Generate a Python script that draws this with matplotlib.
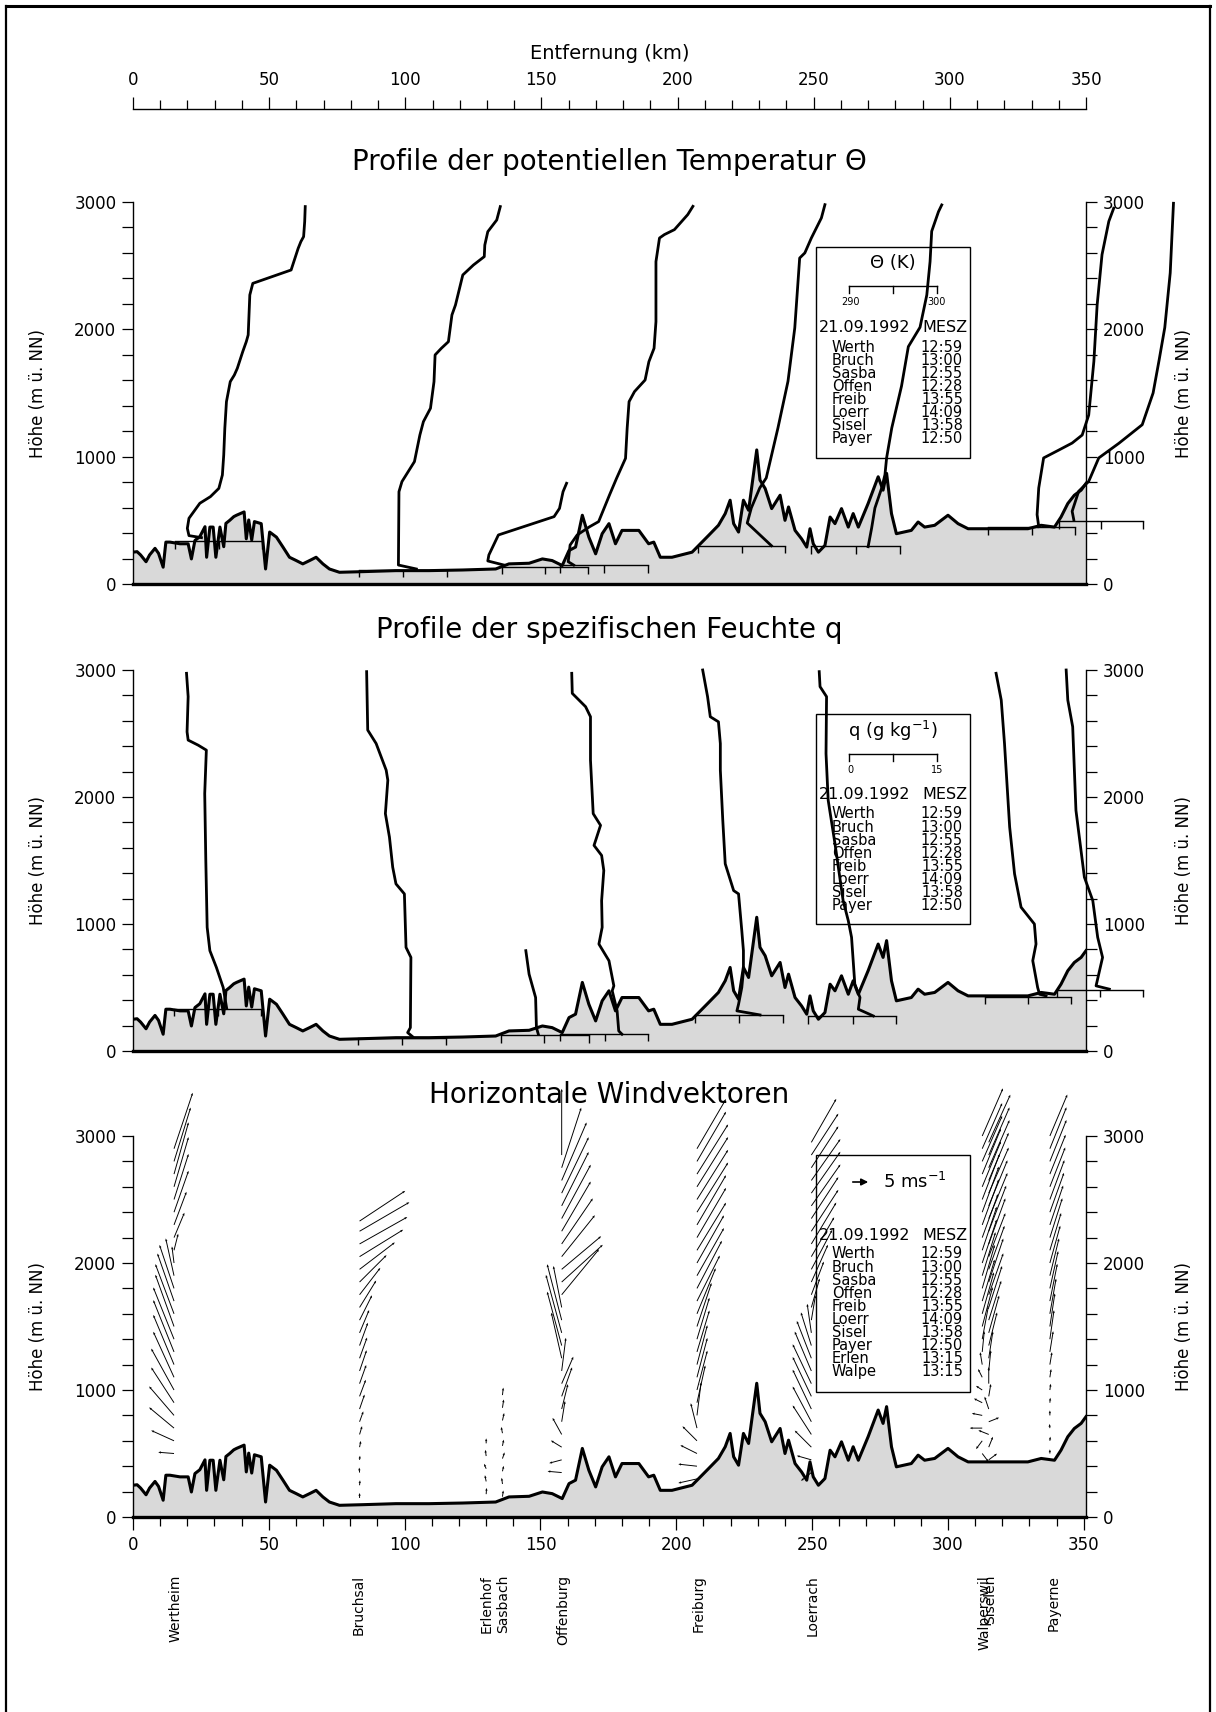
import numpy as np
import matplotlib
matplotlib.use('Agg')
import matplotlib.pyplot as plt
from matplotlib.patches import Rectangle, FancyArrowPatch
from matplotlib.lines import Line2D
from matplotlib.transforms import blended_transform_factory
from matplotlib.ticker import MultipleLocator

plt.rcParams['font.family'] = ['DejaVu Sans']

# terrain along the cross section (km, m a.s.l.)
terrain_km = [0.0, 1.5, 2.8, 4.8, 6.1, 8.1, 9.4, 11.1, 12.1, 13.6, 17.3, 20.3, 21.5, 22.8, 24.6,
              26.5, 27.1, 28.3, 29.5, 30.5, 32.0, 33.4, 34.2, 35.6, 37.1, 38.1, 40.9, 41.7, 42.6,
              43.7, 44.7, 47.2, 48.8, 50.3, 52.8, 55.2, 57.6, 60.1, 62.5, 65.0, 67.4, 69.9, 72.3,
              76.0, 84.6, 96.8, 109.0, 121.3, 133.5, 138.4, 145.8, 150.7, 154.3, 158.0, 160.5,
              162.9, 165.4, 167.8, 170.3, 172.7, 175.2, 177.6, 180.0, 182.5, 186.2, 189.8, 191.7,
              194.1, 198.4, 205.8, 211.9, 215.5, 218.0, 219.8, 221.1, 222.9, 224.7, 226.6, 229.6,
              230.8, 232.7, 235.1, 238.2, 240.0, 241.3, 243.7, 246.1, 248.0, 249.2, 250.4, 252.3,
              254.7, 256.6, 258.4, 260.8, 263.3, 265.1, 267.0, 270.6, 274.3, 276.1, 277.4, 279.2,
              281.0, 286.5, 289.0, 291.4, 295.1, 300.0, 303.7, 307.4, 317.1, 329.4, 334.3, 339.2,
              341.6, 344.1, 346.5, 349.0, 350.8]
terrain_m = [250, 254, 228, 175, 228, 280, 241, 132, 329, 329, 316, 316, 197, 342, 372,
             450, 210, 447, 447, 210, 447, 293, 476, 500, 529, 540, 566, 355, 503,
             346, 490, 474, 118, 408, 368, 290, 210, 184, 158, 184, 210, 158, 118,
             92, 97, 105, 105, 110, 118, 158, 163, 197, 184, 145, 263,
             290, 540, 368, 237, 395, 474, 316, 421, 421, 421, 316, 329,
             210, 210, 250, 382, 461, 553, 658, 474, 408, 658, 579, 1053,
             816, 750, 592, 697, 500, 605, 421, 355, 290, 434, 316, 250,
             303, 526, 474, 592, 447, 553, 447, 632, 842, 737, 869, 553,
             395, 421, 487, 447, 461, 540, 474, 434, 434, 434, 461, 447,
             526, 632, 697, 737, 790]

# potential temperature profiles (plotted position km, height m)
th_werth_km = [25.2, 20.6, 20.0, 20.6, 24.6, 28.5, 31.6, 32.9, 33.4, 33.8, 34.4, 35.8, 37.3, 38.4,
               40.4, 41.7, 42.4, 43.0, 44.1, 58.2, 60.8, 61.8, 62.8, 63.2, 63.4]
th_werth_m = [364, 380, 437, 516, 634, 686, 751, 856, 1013, 1223, 1432, 1589, 1641, 1694,
              1825, 1903, 1956, 2270, 2361, 2466, 2636, 2689, 2728, 2846, 2964]
th_bruch_km = [104.3, 97.7, 97.9, 99.0, 103.6, 105.6, 106.9, 109.5, 110.8, 111.2, 113.5, 116.1,
               117.4, 118.7, 121.4, 125.3, 129.3, 129.5, 130.6, 133.9, 135.2]
th_bruch_m = [118, 149, 725, 804, 961, 1170, 1275, 1380, 1589, 1799, 1851, 1903,
              2113, 2191, 2427, 2505, 2571, 2662, 2767, 2859, 2964]
th_sasba_km = [136.5, 130.6, 131.0, 134.5, 155.0, 157.0, 158.3, 159.6]
th_sasba_m = [149, 181, 228, 385, 529, 594, 725, 791]
th_offen_km = [162.2, 160.2, 160.9, 163.5, 168.1, 171.4, 175.4, 178.0, 181.3, 181.9, 182.6, 184.6,
               188.5, 189.9, 191.8, 192.5, 192.5, 193.8, 195.6, 199.3, 204.2, 206.1]
th_offen_m = [149, 175, 306, 385, 450, 490, 699, 830, 987, 1223, 1432, 1511,
              1602, 1746, 1851, 2060, 2532, 2717, 2744, 2783, 2901, 2966]
th_freib_km = [235.0, 226.1, 227.6, 230.7, 233.1, 237.4, 241.1, 243.6, 245.4, 247.3, 249.7, 253.4, 254.7]
th_freib_m = [301, 479, 597, 754, 833, 1225, 1592, 2011, 2560, 2600, 2717, 2875, 2979]
th_loerr_km = [270.6, 271.9, 273.1, 275.6, 276.8, 277.4, 279.3, 282.9, 285.4, 289.7, 292.2, 293.4,
               294.0, 296.5, 297.7]
th_loerr_m = [293, 440, 597, 754, 859, 990, 1225, 1555, 1864, 2016, 2270, 2532, 2770, 2924, 2977]
th_sisel_km = [333.4, 332.8, 333.4, 335.2, 340.8, 345.7, 349.4, 351.8, 353.7, 354.9, 356.7, 359.2, 361.0]
th_sisel_m = [450, 545, 754, 990, 1052, 1107, 1170, 1327, 1749, 2191, 2587, 2848, 2951]
th_payer_km = [346.3, 345.7, 348.1, 351.8, 355.5, 362.9, 371.5, 375.5, 377.7, 379.8, 381.8, 383.0]
th_payer_m = [505, 571, 728, 806, 990, 1105, 1251, 1500, 1757, 2014, 2443, 2990]

# launch heights and scale ticks of the theta profiles (290/295/300 K)
theta_base_m = [338, 113, 135, 150, 301, 296, 445, 492]
theta_base_ticks = [[15.4, 31.5, 47.6], [83.2, 99.4, 115.6], [135.9, 151.6, 167.6],
                    [157.3, 173.3, 189.6], [207.9, 224.1, 240.1], [249.7, 266.1, 282.3],
                    [314.9, 330.9, 346.9], [340.8, 356.3, 371.7]]

# specific humidity profiles
q_werth_km = [34.5, 33.2, 30.7, 28.3, 27.3, 26.8, 26.4, 27.0, 24.0, 20.3, 19.9, 20.3, 19.7]
q_werth_m = [334, 500, 658, 790, 974, 1500, 2027, 2369, 2408, 2448, 2513, 2790, 2974]
q_bruch_km = [102.9, 101.1, 102.1, 102.3, 100.5, 99.9, 96.8, 95.6, 94.4, 92.9, 93.8, 93.2, 89.5, 86.4, 86.0]
q_bruch_m = [113, 145, 184, 737, 816, 1237, 1316, 1447, 1684, 1869, 2132, 2211, 2421, 2527, 2987]
q_sasba_km = [149.2, 148.5, 148.2, 145.8, 144.6]
q_sasba_m = [132, 184, 421, 605, 790]
q_offen_km = [180.0, 178.8, 178.2, 176.4, 177.0, 175.2, 171.5, 172.7, 172.5, 173.3, 172.5, 169.7,
              170.3, 172.1, 169.4, 168.4, 168.4, 166.6, 161.7, 161.5]
q_offen_m = [132, 158, 316, 474, 513, 711, 842, 974, 1184, 1421, 1540, 1619,
             1658, 1777, 1869, 2290, 2632, 2711, 2816, 2974]
q_freib_km = [230.8, 222.3, 222.9, 224.1, 224.7, 224.7, 224.1, 222.9, 221.1, 218.0, 217.1, 216.2,
              216.2, 215.5, 212.5, 211.5, 209.7]
q_freib_m = [284, 316, 368, 500, 632, 790, 947, 1237, 1263, 1474, 1816, 2211,
             2421, 2592, 2632, 2790, 3000]
q_loerr_km = [272.5, 267.0, 267.6, 265.7, 265.1, 264.5, 263.3, 261.4, 258.4, 255.9, 255.1, 255.3, 252.9, 252.6]
q_loerr_m = [276, 329, 421, 526, 711, 895, 1026, 1184, 1632, 1974, 2342, 2790, 2869, 2987]
q_sisel_km = [336.1, 333.7, 333.0, 331.2, 332.4, 331.8, 326.9, 324.5, 322.7, 320.8, 319.6, 317.7]
q_sisel_m = [434, 447, 500, 711, 842, 1000, 1132, 1395, 1763, 2421, 2763, 2974]
q_payer_km = [359.4, 354.5, 356.9, 355.1, 353.3, 350.2, 347.1, 345.9, 344.1, 343.5]
q_payer_m = [487, 513, 737, 895, 1184, 1369, 1895, 2553, 2763, 3000]

# launch heights and scale ticks of the q profiles (0/7.5/15 g/kg)
q_base_m = [334, 105, 126, 137, 284, 276, 429, 482]
q_base_ticks = [[15.1, 31.2, 47.3], [82.7, 99.0, 115.2], [135.4, 151.3, 167.8],
                [157.2, 173.6, 189.5], [207.0, 222.9, 239.2], [248.6, 264.9, 281.0],
                [313.5, 329.4, 345.3], [340.0, 356.0, 371.6]]

# wind profiles: station position (km), heights (m), along-section u and cross v (m/s)
wind_werth_x = 15.1
wind_werth_z = [500, 600, 700, 800, 900, 1000, 1100, 1200, 1300, 1400, 1500, 1600, 1700, 1800, 1900,
                2000, 2100, 2200, 2300, 2400, 2500, 2600, 2700, 2800, 2900]
wind_werth_u = [-3.8, -5.5, -6.0, -6.0, -5.5, -5.5, -5.0, -5.0, -5.0, -5.0, -4.5, -4.5, -4.0, -3.5, -2.0,
                -0.5, 1.0, 2.5, 3.0, 3.5, 3.5, 3.5, 3.5, 4.0, 4.5]
wind_werth_v = [0.3, 2.5, 5.0, 7.0, 8.5, 10.0, 11.0, 12.0, 12.5, 12.5, 12.5, 12.0, 11.5, 10.5, 9.0,
                4.0, 4.0, 6.0, 8.0, 10.0, 11.0, 12.0, 12.5, 13.0, 13.5]
wind_bruch_x = 83.4
wind_bruch_z = [150, 250, 350, 450, 550, 650, 750, 850, 950, 1050, 1150, 1250, 1350, 1450, 1550,
                1650, 1750, 1850, 1950, 2050, 2150, 2250, 2330]
wind_bruch_u = [0.0, 0.1, -0.1, 0.1, 0.3, 0.6, 0.9, 1.2, 1.5, 1.6, 1.7, 1.8, 2.0, 2.3, 3.0,
                4.0, 5.0, 6.5, 8.5, 10.5, 11.5, 12.0, 11.0]
wind_bruch_v = [1.2, 1.2, 1.2, 1.0, 1.5, 2.0, 2.5, 3.5, 4.0, 4.5, 5.0, 5.0, 5.5, 5.5, 6.0,
                6.5, 6.5, 6.5, 6.5, 6.5, 6.5, 7.0, 7.3]
wind_erlen_x = 130.0
wind_erlen_z = [180, 280, 380, 480, 580]
wind_erlen_u = [0.1, -0.3, -0.5, -0.2, 0.0]
wind_erlen_v = [1.5, 1.5, 1.2, 1.5, 1.2]
wind_sasba_x = 136.0
wind_sasba_z = [160, 260, 360, 460, 560, 660, 760, 860, 960]
wind_sasba_u = [0.2, -0.2, 0.3, 0.5, 0.3, -0.3, 0.4, 0.3, 0.2]
wind_sasba_v = [1.5, 1.5, 1.3, 1.5, 1.5, 1.5, 1.8, 2.0, 1.8]
wind_offen_x = 157.8
wind_offen_z = [350, 450, 550, 650, 750, 850, 950, 1050, 1150, 1250, 1350, 1450, 1550, 1650, 1750,
                1850, 1950, 2050, 2150, 2250, 2350, 2450, 2550, 2650, 2750, 2850]
wind_offen_u = [-3.4, -3.0, -2.6, -2.2, 0.8, 1.5, 2.5, 2.8, 1.0, -2.5, -3.5, -3.8, -3.5, -2.0, 9.0,
                9.9, 9.5, 8.0, 7.5, 7.0, 7.0, 6.5, 6.5, 6.0, 4.7, 0.0]
wind_offen_v = [0.3, -0.8, 1.6, 4.0, 5.0, 6.0, 7.0, 6.5, 8.0, 11.0, 13.0, 14.0, 13.5, 10.0, 11.0,
                9.0, 8.0, 10.0, 11.0, 12.0, 13.0, 13.0, 13.5, 14.0, 14.5, 16.0]
wind_freib_x = 207.6
wind_freib_z = [300, 400, 500, 600, 700, 800, 900, 1000, 1100, 1200, 1300, 1400, 1500, 1600, 1700,
                1800, 1900, 2000, 2100, 2200, 2300, 2400, 2500, 2600, 2700, 2800, 2900]
wind_freib_u = [-4.5, -4.5, -4.0, -3.5, -1.5, 1.0, 2.0, 2.5, 2.5, 2.5, 3.0, 3.0, 3.5, 4.5, 5.5,
                6.0, 6.5, 6.5, 7.0, 7.0, 7.0, 7.5, 7.5, 7.5, 7.5, 7.0, 7.0]
wind_freib_v = [-1.0, 0.5, 2.0, 3.5, 6.0, 8.0, 9.0, 9.5, 9.5, 9.5, 10.0, 10.0, 10.5, 11.0, 11.0,
                11.5, 11.5, 11.5, 11.5, 12.0, 12.0, 12.0, 12.0, 12.0, 12.0, 12.0, 12.0]
wind_loerr_x = 249.7
wind_loerr_z = [350, 450, 550, 650, 750, 850, 950, 1050, 1150, 1250, 1350, 1450, 1550, 1650, 1750,
                1850, 1950, 2050, 2150, 2250, 2350, 2450, 2550, 2650, 2750, 2850, 2950]
wind_loerr_u = [-2.5, -3.5, -4.0, -4.5, -4.5, -4.5, -4.5, -4.5, -4.0, -3.5, -2.5, -1.0, 1.0, 2.0, 3.0,
                4.0, 5.0, 5.5, 6.0, 6.5, 6.5, 7.0, 7.0, 7.0, 6.5, 6.5, 6.0]
wind_loerr_v = [-2.0, 1.0, 4.0, 7.0, 8.5, 9.5, 9.5, 9.5, 9.5, 9.0, 8.0, 7.0, 6.0, 7.0, 8.0,
                9.0, 9.5, 9.5, 10.0, 10.0, 10.0, 10.0, 10.0, 10.0, 10.0, 10.0, 10.5]
wind_walpe_x = 312.6
wind_walpe_z = [500, 600, 700, 800, 900, 1000, 1100, 1200, 1300, 1400, 1500, 1600, 1700, 1800, 1900,
                2000, 2100, 2200, 2300, 2400, 2500, 2600, 2700, 2800, 2900, 3000]
wind_walpe_u = [1.5, -1.5, -3.0, -2.5, -2.0, -1.5, -1.0, -0.5, 0.5, 1.5, 2.5, 2.8, 3.0, 3.0, 3.2,
                3.5, 3.5, 3.8, 4.0, 4.0, 4.2, 4.5, 4.5, 4.8, 4.8, 5.0]
wind_walpe_v = [-2.0, -2.0, 0.0, 0.5, 1.0, 1.0, 2.0, 3.0, 5.0, 8.0, 9.5, 10.0, 10.0, 10.5, 10.5,
                10.5, 10.5, 10.5, 11.0, 11.0, 11.0, 11.0, 11.0, 11.0, 11.0, 11.5]
wind_sisel_x = 315.0
wind_sisel_z = [450, 550, 650, 750, 850, 950, 1050, 1150, 1250, 1350, 1450, 1550, 1650, 1750, 1850,
                1950, 2050, 2150, 2250, 2350, 2450, 2550, 2650, 2750, 2850, 2950]
wind_sisel_u = [2.0, 1.0, -2.5, 2.5, -1.0, 0.5, 0.0, 0.5, 1.0, 2.0, 2.5, 3.0, 3.2, 3.5, 3.5,
                3.8, 4.0, 4.0, 4.2, 4.5, 4.5, 4.8, 4.8, 5.0, 5.0, 5.2]
wind_sisel_v = [1.5, 2.5, 1.0, 1.0, 3.0, 3.0, 4.0, 5.0, 6.5, 8.0, 9.0, 9.5, 10.0, 10.0, 10.5,
                10.5, 10.5, 11.0, 11.0, 11.0, 11.0, 11.0, 11.5, 11.5, 11.5, 11.5]
wind_payer_x = 337.5
wind_payer_z = [500, 600, 700, 800, 900, 1000, 1100, 1200, 1300, 1400, 1500, 1600, 1700, 1800, 1900,
                2000, 2100, 2200, 2300, 2400, 2500, 2600, 2700, 2800, 2900, 3000]
wind_payer_u = [0.0, 0.1, -0.1, 0.0, 0.1, 0.2, 0.3, 0.5, 0.8, 1.0, 1.2, 1.5, 1.8, 2.0, 2.2,
                2.5, 2.7, 3.0, 3.2, 3.4, 3.5, 3.7, 3.8, 4.0, 4.0, 4.2]
wind_payer_v = [1.0, 1.0, 1.0, 1.2, 1.2, 1.5, 2.0, 3.0, 5.0, 7.0, 8.0, 8.5, 9.0, 9.0, 9.0,
                9.0, 9.0, 9.5, 9.5, 9.5, 9.5, 9.5, 9.5, 10.0, 10.0, 10.0]

legend_names = ['Werth', 'Bruch', 'Sasba', 'Offen', 'Freib', 'Loerr', 'Sisel', 'Payer']
legend_times = ['12:59', '13:00', '12:55', '12:28', '13:55', '14:09', '13:58', '12:50']
wind_names = legend_names + ['Erlen', 'Walpe']
wind_times = legend_times + ['13:15', '13:15']

station_names = ['Wertheim', 'Bruchsal', 'Erlenhof', 'Sasbach', 'Offenburg', 'Freiburg',
                 'Loerrach', 'Walperswil', 'Siselen', 'Payerne']
station_km = [15.5, 83.0, 130.2, 136.1, 158.3, 208.3, 250.1, 313.6, 315.5, 338.8]

# ---------------------------------------------------------------- layout
W, H = 1216, 1712
X_MAX = 350.8
KM_PER_MS = 1.528     # 5 m/s -> 7.6 km
M_PER_MS = 32.6

fig = plt.figure(figsize=(W / 100, H / 100), dpi=100)


def fx(x):
    return x / W


def fy(y):
    return 1 - y / H


def make_panel(top, bottom):
    ax = fig.add_axes([fx(133), fy(bottom), (1086 - 133) / W, (bottom - top) / H])
    ax.set_xlim(0, X_MAX)
    ax.set_ylim(0, 3000)
    ax.patch.set_alpha(0)
    ax.spines['top'].set_visible(False)
    ax.spines['bottom'].set_linewidth(2.4)
    ax.spines['left'].set_linewidth(1.0)
    ax.spines['right'].set_linewidth(1.0)
    ax.yaxis.set_major_locator(MultipleLocator(1000))
    ax.yaxis.set_minor_locator(MultipleLocator(200))
    ax.tick_params(axis='y', which='both', direction='out', length=8, width=0.9,
                   left=True, right=True, labelleft=True, labelright=True,
                   labelsize=12, pad=4)
    ax.tick_params(axis='x', which='both', bottom=False, labelbottom=False)
    ax.fill_between(terrain_km, 0, terrain_m, color='#d9d9d9', lw=0, zorder=1)
    ax.plot(terrain_km, terrain_m, color='black', lw=2.2, zorder=3)
    mid = (top + bottom) / 2
    fig.text(fx(38), fy(mid), 'Höhe (m ü. NN)', rotation=90, ha='center', va='center', fontsize=12)
    fig.text(fx(1184), fy(mid), 'Höhe (m ü. NN)', rotation=90, ha='center', va='center', fontsize=12)
    return ax


def draw_bases(ax, heights, ticks):
    for z, t in zip(heights, ticks):
        ax.plot([t[0], t[-1]], [z, z], color='black', lw=1.0, zorder=4, clip_on=False)
        ax.vlines(t, z - 60, z, color='black', lw=1.0, zorder=4, clip_on=False)


def fig_line(xs, ys, lw=1.0):
    fig.add_artist(Line2D([fx(x) for x in xs], [fy(y) for y in ys],
                          transform=fig.transFigure, color='black', lw=lw))


def legend_block(y0, y1, y_date, y_first, names, times):
    fig.add_artist(Rectangle((fx(816), fy(y1)), (970 - 816) / W, (y1 - y0) / H,
                             transform=fig.transFigure, fill=False, ec='black', lw=1.0))
    fig.text(fx(819), fy(y_date), '21.09.1992', ha='left', va='center', fontsize=11.5)
    fig.text(fx(968), fy(y_date), 'MESZ', ha='right', va='center', fontsize=11.5)
    for i, (n, t) in enumerate(zip(names, times)):
        y = y_first + i * 13.1
        fig.text(fx(832), fy(y), n, ha='left', va='center', fontsize=10.5)
        fig.text(fx(963), fy(y), t, ha='right', va='center', fontsize=10.5)


def legend_scale(y, lo, hi):
    fig_line([849, 937], [y, y])
    for x in (849, 893, 937):
        fig_line([x, x], [y, y + 7])
    fig.text(fx(850), fy(y + 16), lo, ha='center', va='center', fontsize=7)
    fig.text(fx(937), fy(y + 16), hi, ha='center', va='center', fontsize=7)


# outer frame
fig_line([6, 6], [6, H], lw=1.6)
fig_line([1210, 1210], [6, H], lw=1.6)
fig_line([6, 1210], [6, 6], lw=2.2)

# distance axis on top
ax_top = fig.add_axes([fx(133), fy(109), (1086 - 133) / W, 0.0001])
ax_top.set_xlim(0, 350)
ax_top.patch.set_alpha(0)
for s in ('bottom', 'left', 'right'):
    ax_top.spines[s].set_visible(False)
ax_top.spines['top'].set_linewidth(1.0)
ax_top.set_yticks([])
ax_top.xaxis.set_ticks_position('top')
ax_top.xaxis.set_label_position('top')
ax_top.xaxis.set_major_locator(MultipleLocator(50))
ax_top.xaxis.set_minor_locator(MultipleLocator(10))
ax_top.tick_params(axis='x', which='major', direction='out', length=9, width=0.9, labelsize=12, pad=5)
ax_top.tick_params(axis='x', which='minor', direction='out', length=6.5, width=0.9)
ax_top.set_xlabel('Entfernung (km)', fontsize=14, labelpad=9)

# ---------------------------------------------------------------- panel 1: theta
fig.text(fx(609), fy(162), 'Profile der potentiellen Temperatur Θ', ha='center', va='center', fontsize=20)
ax1 = make_panel(202, 584)
for xs, zs in [(th_werth_km, th_werth_m), (th_bruch_km, th_bruch_m), (th_sasba_km, th_sasba_m),
               (th_offen_km, th_offen_m), (th_freib_km, th_freib_m), (th_loerr_km, th_loerr_m),
               (th_sisel_km, th_sisel_m), (th_payer_km, th_payer_m)]:
    ax1.plot(xs, zs, color='black', lw=2.0, zorder=5, clip_on=False)
draw_bases(ax1, theta_base_m, theta_base_ticks)
legend_block(247, 458, 327, 347, legend_names, legend_times)
fig.text(fx(893), fy(263), 'Θ (K)', ha='center', va='center', fontsize=13)
legend_scale(286, '290', '300')

# ---------------------------------------------------------------- panel 2: q
fig.text(fx(609), fy(630), 'Profile der spezifischen Feuchte q', ha='center', va='center', fontsize=20)
ax2 = make_panel(670, 1051)
for xs, zs in [(q_werth_km, q_werth_m), (q_bruch_km, q_bruch_m), (q_sasba_km, q_sasba_m),
               (q_offen_km, q_offen_m), (q_freib_km, q_freib_m), (q_loerr_km, q_loerr_m),
               (q_sisel_km, q_sisel_m), (q_payer_km, q_payer_m)]:
    ax2.plot(xs, zs, color='black', lw=2.0, zorder=5, clip_on=False)
draw_bases(ax2, q_base_m, q_base_ticks)
legend_block(714, 924, 795, 814, legend_names, legend_times)
fig.text(fx(893), fy(731), 'q (g kg$^{-1}$)', ha='center', va='center', fontsize=13)
legend_scale(754, '0', '15')

# ---------------------------------------------------------------- panel 3: wind
fig.text(fx(609), fy(1095), 'Horizontale Windvektoren', ha='center', va='center', fontsize=20)
ax3 = make_panel(1136, 1517)
ax3.xaxis.set_major_locator(MultipleLocator(50))
ax3.xaxis.set_minor_locator(MultipleLocator(10))
ax3.tick_params(axis='x', which='major', bottom=True, labelbottom=True, direction='out',
                length=9, width=0.9, labelsize=12, pad=5)
ax3.tick_params(axis='x', which='minor', bottom=True, direction='out', length=6.5, width=0.9)

winds = [(wind_werth_x, wind_werth_z, wind_werth_u, wind_werth_v),
         (wind_bruch_x, wind_bruch_z, wind_bruch_u, wind_bruch_v),
         (wind_erlen_x, wind_erlen_z, wind_erlen_u, wind_erlen_v),
         (wind_sasba_x, wind_sasba_z, wind_sasba_u, wind_sasba_v),
         (wind_offen_x, wind_offen_z, wind_offen_u, wind_offen_v),
         (wind_freib_x, wind_freib_z, wind_freib_u, wind_freib_v),
         (wind_loerr_x, wind_loerr_z, wind_loerr_u, wind_loerr_v),
         (wind_walpe_x, wind_walpe_z, wind_walpe_u, wind_walpe_v),
         (wind_sisel_x, wind_sisel_z, wind_sisel_u, wind_sisel_v),
         (wind_payer_x, wind_payer_z, wind_payer_u, wind_payer_v)]
for x0, z, u, v in winds:
    z = np.asarray(z, float)
    qv = ax3.quiver(np.full(len(z), x0), z, np.asarray(u) * KM_PER_MS, np.asarray(v) * M_PER_MS,
                    angles='xy', scale_units='xy', scale=1, color='black', width=0.001,
                    headwidth=2.5, headlength=3, headaxislength=2.7, zorder=5)
    qv.set_clip_on(False)

legend_block(1155, 1392, 1235, 1254, wind_names, wind_times)
fig.add_artist(FancyArrowPatch((fx(850), fy(1182)), (fx(871), fy(1182)), transform=fig.transFigure,
                               arrowstyle='-|>,head_length=4,head_width=2', color='black', lw=1.2))
fig.text(fx(883), fy(1182), '5 ms$^{-1}$', ha='left', va='center', fontsize=13)

# station names below the section
tr = blended_transform_factory(ax3.transData, fig.transFigure)
for name, km in zip(station_names, station_km):
    ax3.text(km, fy(1575), name, transform=tr, rotation=90, ha='center', va='top', fontsize=10)

fig.savefig('out.png', dpi=100)
